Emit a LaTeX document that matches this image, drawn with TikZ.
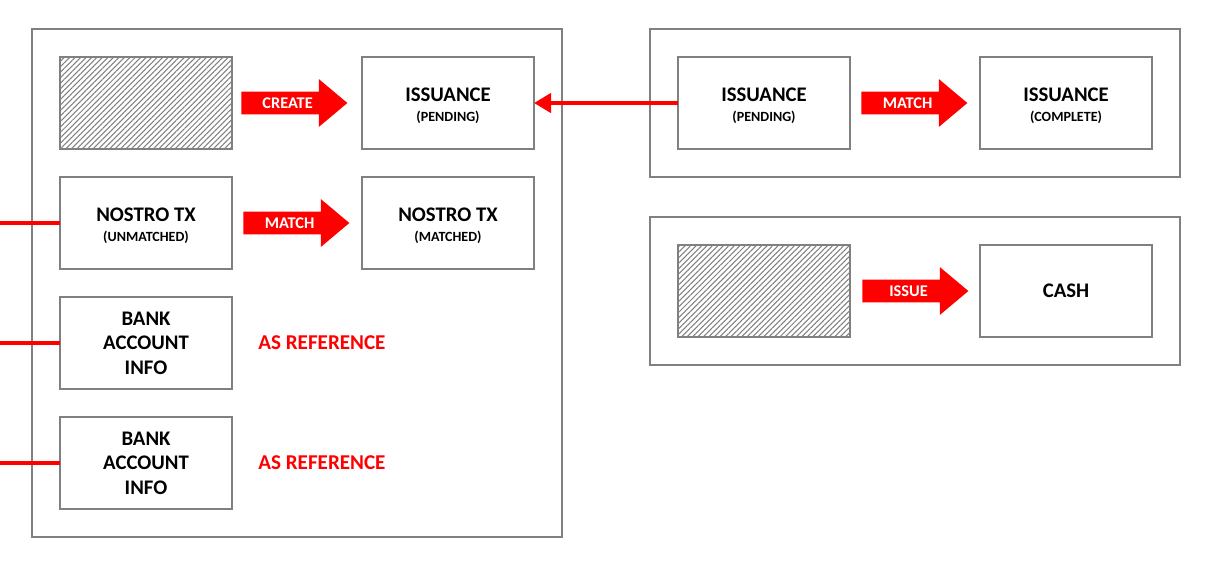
\documentclass[tikz,border=0pt]{standalone}
\usepackage{fontspec}
\setmainfont{Carlito}
\usepackage{tikz}
\usetikzlibrary{positioning,arrows.meta,fit,calc,shapes.arrows,patterns.meta}

\begin{document}
\begin{tikzpicture}[
  box/.style={draw=gray, line width=1.1pt, minimum width=3.44cm,
              minimum height=1.84cm, inner sep=0pt, outer sep=0pt, align=center,
              font=\fontsize{11.8}{13.9}\selectfont\bfseries},
  hatch/.style={box, pattern={Lines[angle=45,distance=2.2pt,line width=0.6pt]},
                pattern color=gray},
  frame/.style={draw=gray, line width=1.1pt, inner sep=0.56cm},
  blockarr/.style={single arrow, fill=red, minimum height=2.12cm, anchor=tail,
                   single arrow head extend=0.25cm, single arrow tip angle=80,
                   text=white, font=\fontsize{9.3}{9.5}\selectfont\bfseries,
                   text height=2.1mm, text depth=0pt, inner ysep=1.15mm, inner xsep=0pt},
  link/.style={draw=red, line width=2.8pt},
  refnote/.style={text=red, inner sep=0pt, font=\fontsize{12}{14}\selectfont\bfseries},
]
  \useasboundingbox (0,0) rectangle (24.2,-11.4);

  % left panel
  \node[hatch] (src1) at (2.92,-2.06) {};
  \node[box, right=2.6 of src1] (issP) {\rule{0pt}{10.8pt}ISSUANCE\\[-3pt]{\fontsize{8}{9}\selectfont (PENDING)}};
  \node[box, below=0.56 of src1] (nosU) {\rule{0pt}{10.8pt}NOSTRO TX\\[-3pt]{\fontsize{8}{9}\selectfont (UNMATCHED)}};
  \node[box, right=2.6 of nosU] (nosM) {\rule{0pt}{10.8pt}NOSTRO TX\\[-3pt]{\fontsize{8}{9}\selectfont (MATCHED)}};
  \node[box, below=0.56 of nosU] (bankA) {BANK\\ACCOUNT\\INFO};
  \node[box, below=0.56 of bankA] (bankB) {BANK\\ACCOUNT\\INFO};
  \node[refnote, right=0.52 of bankA, anchor=west] (refA) {AS REFERENCE};
  \node[refnote, right=0.52 of bankB, anchor=west] (refB) {AS REFERENCE};
  \node[frame, fit=(src1)(issP)(bankB)] (leftpanel) {};

  % right panels
  \node[box, right=2.88 of issP] (issP2) {\rule{0pt}{10.8pt}ISSUANCE\\[-3pt]{\fontsize{8}{9}\selectfont (PENDING)}};
  \node[box, right=2.6 of issP2] (issC) {\rule{0pt}{10.8pt}ISSUANCE\\[-3pt]{\fontsize{8}{9}\selectfont (COMPLETE)}};
  \node[hatch, below=1.92 of issP2] (src2) {};
  \node[box, right=2.6 of src2] (cash) {CASH};
  \node[frame, fit=(issP2)(issC)] (toppanel) {};
  \node[frame, fit=(src2)(cash)] (cashpanel) {};

  % block arrows
  \node[blockarr] (create) at ($(src1.east)+(0.18,0)$) {CREATE};
  \node[blockarr] (matchA) at ($(nosU.east)+(0.22,0)$) {MATCH};
  \node[blockarr] (matchB) at ($(issP2.east)+(0.22,0)$) {MATCH};
  \node[blockarr] (issue) at ($(src2.east)+(0.24,0)$) {ISSUE};

  % red links
  \coordinate (inA) at (nosU.west -| 0,0);
  \coordinate (inB) at (bankA.west -| 0,0);
  \coordinate (inC) at (bankB.west -| 0,0);
  \draw[link, -{Triangle[length=0.34cm, width=0.38cm]}] (issP2.west) -- (issP.east);
  \draw[link] (inA) -- (nosU.west);
  \draw[link] (inB) -- (bankA.west);
  \draw[link] (inC) -- (bankB.west);
\end{tikzpicture}
\end{document}
